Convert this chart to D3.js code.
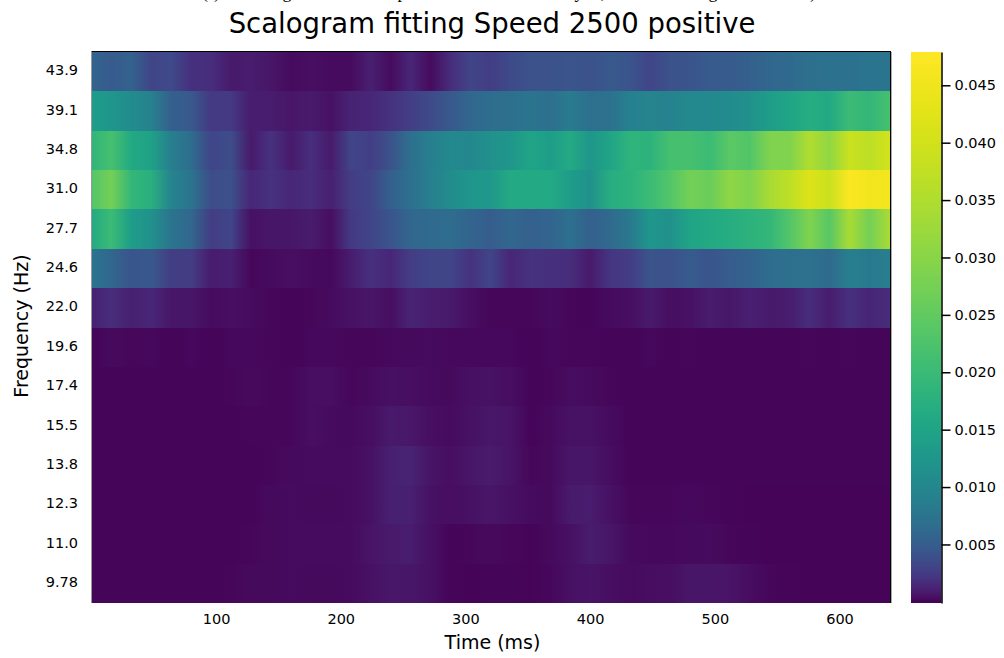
<!DOCTYPE html>
<html>
<head>
<meta charset="utf-8">
<script src="https://cdn.jsdelivr.net/npm/d3@7"></script>
<style>
  html, body { margin: 0; padding: 0; background: #fff; }
  svg { display: block; }
  text { font-family: "DejaVu Sans", sans-serif; fill: #000; }
</style>
</head>
<body>
<svg width="1004" height="658"></svg>
<script>
// time samples (ms), one every 16 ms across the recording
const times = d3.range(0, 641, 16);

const freqLabels = ['43.9', '39.1', '34.8', '31.0', '27.7', '24.6', '22.0', '19.6', '17.4', '15.5', '13.8', '12.3', '11.0', '9.78'];

// scalogram values per frequency, in thousandths
const row439 = [5.7,4.8,5.5,3.1,3.5,1.9,1.7,.8,.9,.65,.25,.35,.25,.25,1.1,.25,1.4,.25,1.7,3.1,2.6,3.5,4.1,4.1,4.3,4.1,4.6,4.3,3.1,4.1,4.3,4.8,4.8,5.3,6,6.3,6.9,7.2,7.2,7.5,7.5];
const row391 = [13.6,12.4,10.8,9.1,5.3,4.6,2.4,2.4,.9,.9,.65,.8,.5,1.2,1.4,2,2.7,3.5,4.6,6,6.6,6.9,7.5,6.9,8.4,6.9,7.2,9.1,9.7,9.4,10.4,10.4,10.8,11.5,13.6,15,17,15.9,20.3,19,21.5];
const row348 = [18.5,21.5,15.9,14.5,8.8,6.6,3.1,3.7,.8,2,.8,1.8,.8,3.1,2.7,4.1,6.9,8.8,10.4,10,11.5,12.4,15,13.6,15.9,12.4,15,18.5,17.9,21.5,21.5,20.3,24.2,23,28.8,28.8,35,31,39,37,40];
const row310 = [23,27.3,19,17.4,9.7,7.5,3.7,3.9,1.4,2,1.4,1.7,1.1,2.6,3.1,5.3,6.9,8.8,10.8,12.4,12.8,15.9,15.9,15.9,13.6,11.5,17,17.9,20.3,23,27.3,26,30.5,28.8,34,37,42,39,47,45.5,46];
const row277 = [15.9,20.3,13.6,11.5,7.5,6,2.6,3.1,.5,.65,.65,.9,.35,2.4,3.1,4.3,6,6.3,6.6,5.7,5,6,5.3,5.7,6.9,5.3,6.3,8.1,12.4,11.5,15,15.9,17,17.9,19,23,28.8,24,34,27.3,34];
const row246 = [7.5,6,4.3,4.6,2.6,2.6,.9,1.1,.1,.25,.35,.25,.15,.9,1.9,1.4,2.6,3.1,3.1,2,3.1,1.4,2,1.9,1.7,.8,2.2,2.6,4.3,4.1,4.8,4.3,5,5.5,6.6,6.9,7.2,6.3,8.8,8.1,8.8];
const row220 = [1.1,1.7,1.1,1.4,.65,.65,.25,.35,.25,.1,.05,.1,.25,.5,.65,.35,1.3,.9,.8,.35,.1,.1,.1,.25,.1,.05,.25,.35,.8,.35,.5,.9,.65,1.1,.8,.9,1.7,.9,1.9,1.3,1.7];
const row196 = [.09,.2,.14,.18,.09,.18,.09,.15,.17,.14,.05,.17,.17,.14,.14,.17,.22,.26,.17,.17,.17,.17,.05,.17,.14,.14,.09,.05,.17,.05,.14,.05,.05,.05,.05,.05,.14,.05,.14,.09,.09];
const row174 = [.06,.06,.06,.06,.06,.06,.06,.13,.2,.1,.13,.38,.38,.13,.25,.45,.38,.25,.2,.45,.5,.38,.06,.13,.32,.25,.13,.06,.06,.06,.06,.06,.06,.06,.06,.06,.06,.06,.06,.06,.06];
const row155 = [.06,.06,.06,.06,.06,.06,.06,.06,.13,.13,.13,.38,.25,.2,.38,.8,.7,.38,.25,.5,.7,.6,.06,.2,.5,.5,.25,.06,.06,.06,.06,.06,.06,.06,.06,.06,.06,.06,.06,.06,.06];
const row138 = [.06,.06,.06,.06,.06,.06,.06,.06,.06,.13,.2,.25,.25,.25,.5,1.1,1.2,.6,.38,.65,.85,.6,.13,.2,.65,.65,.32,.06,.06,.06,.06,.06,.06,.06,.06,.06,.06,.06,.06,.06,.06];
const row123 = [.06,.06,.06,.06,.06,.06,.06,.06,.06,.2,.25,.2,.2,.25,.5,1.1,1.1,.5,.32,.5,.65,.45,.25,.2,.8,.95,.5,.13,.13,.13,.15,.13,.06,.04,.04,.04,.04,.04,.04,.04,.04];
const row110 = [.05,.05,.05,.05,.05,.05,.05,.05,.13,.2,.25,.25,.25,.25,.6,.8,.95,.45,.06,.13,.2,.13,.04,.2,.45,.95,.65,.2,.15,.15,.2,.25,.13,.06,.04,.04,.04,.04,.04,.04,.04];
const row978 = [.06,.05,.05,.05,.05,.05,.05,.1,.2,.2,.25,.2,.23,.25,.5,.72,.65,.45,.08,.04,.05,.06,.03,.13,.45,.6,.38,.25,.32,.38,.65,.65,.6,.32,.13,.06,.04,.04,.04,.04,.04];

const heatRows = [row439, row391, row348, row310, row277, row246, row220, row196, row174, row155, row138, row123, row110, row978];

const xTicks = [100, 200, 300, 400, 500, 600];
const barTicks = [0.005, 0.010, 0.015, 0.020, 0.025, 0.030, 0.035, 0.040, 0.045];

// the bits of a caption cut off by the top edge of the page
const cutCaption = [['(', 205], [')', 217], ['g', 287], ['p', 402], ['y', 579], [',', 603], ['g', 713], [')', 813]];

const svg = d3.select('svg');

const plot = { left: 92, right: 890, top: 52, bottom: 603 };
const bar = { left: 911, right: 941.5 };
const vMin = -0.0001, vMax = 0.0479;

const x = d3.scaleLinear().domain([0.5, 640.5]).range([plot.left, plot.right]);
const y = d3.scaleBand().domain(freqLabels).range([plot.top, plot.bottom]);
const yBar = d3.scaleLinear().domain([vMin, vMax]).range([plot.bottom, plot.top]);

// viridis on a log stretched gradient, same as the colorbar in the picture
const color = d3.scaleLinear().domain([vMin, vMax]).range([0, 1]);
const colorOf = v => d3.interpolateViridis(Math.log10(1 + 9 * color(v)));

// one horizontal gradient per frequency row
const defs = svg.append('defs');
const grads = defs.selectAll('linearGradient.row')
  .data(heatRows)
  .enter().append('linearGradient')
    .attr('class', 'row')
    .attr('id', (d, i) => `row${i}`)
    .attr('gradientUnits', 'userSpaceOnUse')
    .attr('x1', x(times[0]))
    .attr('x2', x(times[times.length - 1]))
    .attr('y1', 0)
    .attr('y2', 0);

grads.selectAll('stop')
  .data(d => d)
  .enter().append('stop')
    .attr('offset', (d, i) => (x(times[i]) - x(times[0])) / (x(times[times.length - 1]) - x(times[0])))
    .attr('stop-color', d => colorOf(d / 1000));

// rows snapped to whole pixels so no seams show between them
const rowEdges = d3.range(freqLabels.length + 1).map(i => Math.round(plot.top + i * y.step()));

svg.append('g').selectAll('rect')
  .data(heatRows)
  .enter().append('rect')
    .attr('x', plot.left)
    .attr('y', (d, i) => rowEdges[i])
    .attr('width', plot.right - plot.left)
    .attr('height', (d, i) => rowEdges[i + 1] - rowEdges[i])
    .attr('shape-rendering', 'crispEdges')
    .attr('fill', (d, i) => `url(#row${i})`);

// frame
const frame = svg.append('g').attr('fill', 'none');
frame.append('path').attr('d', `M${plot.left - 0.5},51.5H${plot.right + 1}`).attr('stroke', '#000');
frame.append('path').attr('d', `M91.5,52V${plot.bottom}`).attr('stroke', '#999');
frame.append('path').attr('d', `M890.5,52V${plot.bottom}`).attr('stroke', '#000');
frame.append('path').attr('d', `M891.5,52V${plot.bottom}`).attr('stroke', '#aaa');

// axes
const xAxis = d3.axisBottom(x).tickValues(xTicks).tickSize(0).tickPadding(11);
const yAxis = d3.axisLeft(y).tickSize(0).tickPadding(14);

const gx = svg.append('g').attr('transform', `translate(0,${plot.bottom})`).call(xAxis);
const gy = svg.append('g').attr('transform', `translate(${plot.left},0)`).call(yAxis);
gx.select('.domain').remove();
gy.select('.domain').remove();
gx.selectAll('text').style('font-family', '"DejaVu Sans"').style('font-size', '14.5px');
gy.selectAll('text').style('font-family', '"DejaVu Sans"').style('font-size', '14.5px').attr('dy', '0.25em');

// colorbar, one vertical gradient sampled from the colour scale
const levels = d3.range(257).map(i => vMin + (vMax - vMin) * i / 256);
defs.append('linearGradient')
    .attr('id', 'barGrad')
    .attr('x1', 0).attr('x2', 0).attr('y1', 1).attr('y2', 0)
  .selectAll('stop')
  .data(levels)
  .enter().append('stop')
    .attr('offset', (d, i) => i / 256)
    .attr('stop-color', d => colorOf(d));

svg.append('rect')
    .attr('x', bar.left)
    .attr('y', yBar(vMax))
    .attr('width', bar.right - bar.left)
    .attr('height', yBar(vMin) - yBar(vMax))
    .attr('fill', 'url(#barGrad)');

const barAxis = d3.axisRight(yBar)
    .tickValues(barTicks)
    .tickFormat(d3.format('.3f'))
    .tickSize(9)
    .tickSizeOuter(0)
    .tickPadding(4);
const gBar = svg.append('g').attr('transform', `translate(${bar.right},0)`).call(barAxis);
gBar.select('.domain').attr('stroke', '#000').attr('stroke-width', 1.5);
gBar.selectAll('line').attr('stroke', '#000').attr('stroke-width', 1.5);
gBar.selectAll('text').style('font-family', '"DejaVu Sans"').style('font-size', '14.5px');

// titles
svg.append('text')
    .attr('x', 492)
    .attr('y', 33)
    .attr('text-anchor', 'middle')
    .style('font-size', '27.5px')
    .text('Scalogram fitting Speed 2500 positive');

svg.append('text')
    .attr('x', 492.5)
    .attr('y', 649)
    .attr('text-anchor', 'middle')
    .style('font-size', '19px')
    .text('Time (ms)');

svg.append('text')
    .attr('transform', 'translate(28,326) rotate(-90)')
    .attr('text-anchor', 'middle')
    .style('font-size', '19px')
    .text('Frequency (Hz)');

svg.append('g').selectAll('text')
  .data(cutCaption)
  .enter().append('text')
    .attr('x', d => d[1])
    .attr('y', -2)
    .attr('text-anchor', 'middle')
    .style('font-family', '"Liberation Serif"')
    .style('font-size', '18px')
    .text(d => d[0]);
</script>
</body>
</html>
